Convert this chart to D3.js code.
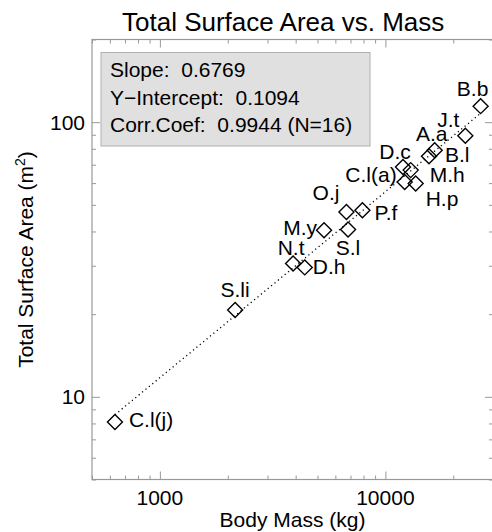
<!DOCTYPE html>
<html>
<head>
<meta charset="utf-8">
<script src="https://cdn.jsdelivr.net/npm/d3@7"></script>
<style>
  body { margin: 0; background: #fff; }
  svg text { font-family: "Liberation Sans", Arial, sans-serif; fill: #000; }
</style>
</head>
<body>
<svg id="chart" width="492" height="532"></svg>
<script>
// animals, body mass (kg) and total surface area (m^2)
var names = ["C.l(j)", "S.li", "N.t", "D.h", "M.y", "S.l", "O.j", "P.f",
             "D.c", "M.h", "C.l(a)", "H.p", "A.a", "B.l", "J.t", "B.b"];
var massKg = [632, 2156, 3896, 4389, 5346, 6829, 6718, 7909,
              11967, 12945, 12174, 13624, 16537, 15605, 22615, 26440];
var areaM2 = [8.1, 20.7, 30.6, 29.6, 40.4, 40.7, 47.1, 47.8,
              68.7, 66.9, 60.6, 59.8, 79.1, 75.2, 89.2, 114.4];

// fit: area = intercept * mass^slope
var fitSlope = 0.6769,
    fitIntercept = 0.1094,
    fitCorr = 0.9944;

var legendLines = [
  "Slope:  " + fitSlope.toFixed(4),
  "Y\u2212Intercept:  " + fitIntercept.toFixed(4),
  "Corr.Coef:  " + fitCorr.toFixed(4) + " (N=" + names.length + ")"
];

// label placement around each diamond: anchor, dx, dy (baseline)
var labelPlace = {
  "C.l(j)": ["start", 14, 5],
  "S.li":   ["middle", 0, -13],
  "N.t":    ["middle", -2, -8],
  "D.h":    ["start", 8, 7],
  "M.y":    ["end", -7, 5],
  "S.l":    ["middle", 0, 26],
  "O.j":    ["end", -7, -12],
  "P.f":    ["start", 12, 10],
  "D.c":    ["middle", -8, -8],
  "M.h":    ["start", 19, 12],
  "C.l(a)": ["end", -8, 0],
  "H.p":    ["start", 10, 22],
  "A.a":    ["middle", -3, -9],
  "B.l":    ["start", 16, 6],
  "J.t":    ["end", -6, -9],
  "B.b":    ["middle", -8, -10]
};

var svg = d3.select("#chart");
// note: "top" is a window property, so use other names
var plotL = 92, plotR = 493, plotT = 39.5, plotB = 479.5;
var axisColor = "#999";

var x = d3.scaleLog().domain([500, 30000]).range([plotL, plotR]);
var y = d3.scaleLog().domain([5, 200]).range([plotB, plotT]);

var isMajor = function (v) { return Math.abs(Math.log10(v) - Math.round(Math.log10(v))) < 1e-9; };
var xAll = x.ticks(), yAll = y.ticks();
var xMajor = xAll.filter(isMajor), xMinor = xAll.filter(function (v) { return !isMajor(v); });
var yMajor = yAll.filter(isMajor), yMinor = yAll.filter(function (v) { return !isMajor(v); });

function drawAxis(axis, tx, ty) {
  var g = svg.append("g").attr("transform", "translate(" + tx + "," + ty + ")").call(axis);
  g.select(".domain").remove();
  g.selectAll(".tick line").attr("stroke", axisColor);
  return g;
}

// inward ticks on all four sides
drawAxis(d3.axisBottom(x).tickValues(xMajor).tickSize(-8).tickFormat(""), 0, plotB);
drawAxis(d3.axisBottom(x).tickValues(xMinor).tickSize(-4).tickFormat(""), 0, plotB);
drawAxis(d3.axisTop(x).tickValues(xMajor).tickSize(-8).tickFormat(""), 0, plotT);
drawAxis(d3.axisTop(x).tickValues(xMinor).tickSize(-4).tickFormat(""), 0, plotT);
drawAxis(d3.axisLeft(y).tickValues(yMajor).tickSize(-8).tickFormat(""), plotL, 0);
drawAxis(d3.axisLeft(y).tickValues(yMinor).tickSize(-4).tickFormat(""), plotL, 0);
drawAxis(d3.axisRight(y).tickValues(yMajor).tickSize(-8).tickFormat(""), plotR, 0);
drawAxis(d3.axisRight(y).tickValues(yMinor).tickSize(-4).tickFormat(""), plotR, 0);

svg.append("rect")
  .attr("x", plotL).attr("y", plotT)
  .attr("width", plotR - plotL).attr("height", plotB - plotT)
  .attr("fill", "none").attr("stroke", axisColor).attr("stroke-width", 1.2);

// tick labels
svg.selectAll(".xlab").data(xMajor).enter().append("text")
  .attr("x", function (d) { return x(d); })
  .attr("y", plotB + 25.5)
  .attr("text-anchor", "middle")
  .style("font-size", "21px")
  .text(d3.format("d"));

svg.selectAll(".ylab").data(yMajor).enter().append("text")
  .attr("x", plotL - 7)
  .attr("y", function (d) { return y(d) + 7.5; })
  .attr("text-anchor", "end")
  .style("font-size", "21px")
  .text(d3.format("d"));

// titles
svg.append("text")
  .attr("x", 122).attr("y", 30.5)
  .style("font-size", "26px")
  .text("Total Surface Area vs. Mass");

svg.append("text")
  .attr("x", (plotL + plotR) / 2).attr("y", 527)
  .attr("text-anchor", "middle")
  .style("font-size", "21px")
  .text("Body Mass (kg)");

var yt = svg.append("text")
  .attr("transform", "translate(33," + ((plotT + plotB) / 2) + ") rotate(-90)")
  .attr("text-anchor", "middle")
  .style("font-size", "21px");
yt.append("tspan").text("Total Surface Area (m");
yt.append("tspan").attr("dy", -8).style("font-size", "14px").text("2");
yt.append("tspan").attr("dy", 8).text(")");

// legend box
svg.append("rect")
  .attr("x", 101).attr("y", 52.5)
  .attr("width", 269).attr("height", 93.5)
  .attr("fill", "#e0e0e0").attr("stroke", "#b0b0b0");

svg.selectAll(".leg").data(legendLines).enter().append("text")
  .attr("x", 110)
  .attr("y", function (d, i) { return 77 + i * 27.5; })
  .attr("xml:space", "preserve")
  .style("white-space", "pre")
  .style("font-size", "21px")
  .text(function (d) { return d; });

// regression line (dotted)
var xExt = d3.extent(massKg);
svg.append("path")
  .datum(xExt)
  .attr("d", d3.line()
    .x(function (d) { return x(d); })
    .y(function (d) { return y(fitIntercept * Math.pow(d, fitSlope)); }))
  .attr("fill", "none")
  .attr("stroke", "#000")
  .attr("stroke-width", 1.3)
  .attr("stroke-dasharray", "1.2,3.2");

// diamonds
var pts = names.map(function (n, i) { return { name: n, m: massKg[i], a: areaM2[i] }; });
var r = 7.5;
svg.selectAll(".pt").data(pts).enter().append("path")
  .attr("d", function (d) {
    var cx = x(d.m), cy = y(d.a);
    return "M" + cx + "," + (cy - r) + "L" + (cx + r) + "," + cy +
           "L" + cx + "," + (cy + r) + "L" + (cx - r) + "," + cy + "Z";
  })
  .attr("fill", "none")
  .attr("stroke", "#000")
  .attr("stroke-width", 1.4);

svg.selectAll(".plab").data(pts).enter().append("text")
  .attr("x", function (d) { return x(d.m) + labelPlace[d.name][1]; })
  .attr("y", function (d) { return y(d.a) + labelPlace[d.name][2]; })
  .attr("text-anchor", function (d) { return labelPlace[d.name][0]; })
  .style("font-size", "21px")
  .text(function (d) { return d.name; });
</script>
</body>
</html>
